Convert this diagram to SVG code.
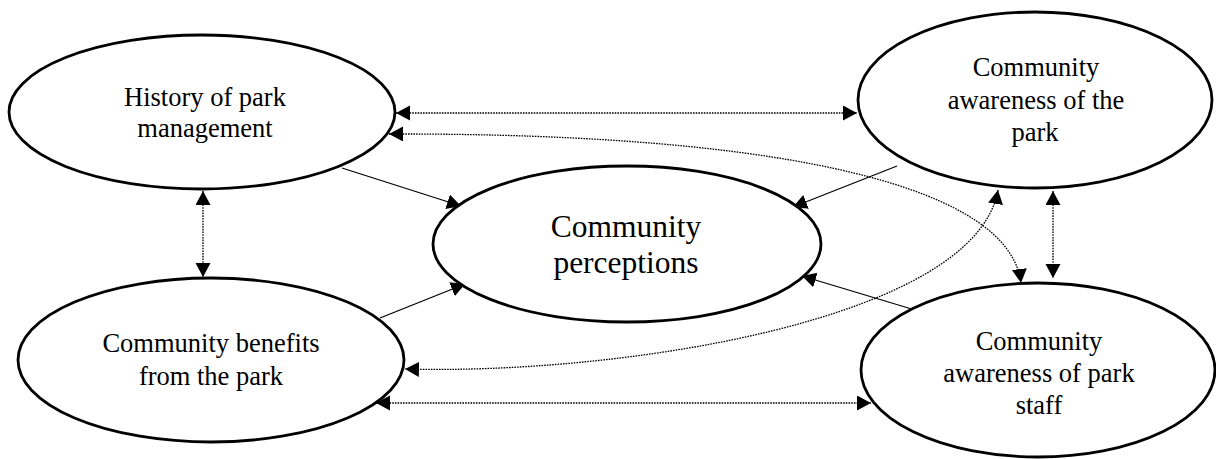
<svg xmlns="http://www.w3.org/2000/svg" width="1216" height="459" viewBox="0 0 1216 459">
<style>
.node{fill:#fff;stroke:#000;stroke-width:2.8}
.t{font-family:"Liberation Serif","Times New Roman",serif;font-size:26.5px;fill:#000;text-anchor:middle}
.tc{font-size:31.5px}
.solid{fill:none;stroke:#000;stroke-width:1.3}
.dot{fill:none;stroke:#000;stroke-width:1.3;stroke-dasharray:1.6 1.1}
</style>
<defs>
<marker id="ah" markerUnits="userSpaceOnUse" markerWidth="16" markerHeight="16" refX="14" refY="7.5" orient="auto-start-reverse" viewBox="0 0 16 16">
<path d="M0,0 L14,7.5 L0,15 z" fill="#000"/>
</marker>
</defs>
<rect width="1216" height="459" fill="#fff"/>
<g id="connectors">
<line class="dot" x1="396" y1="113" x2="857" y2="113" marker-start="url(#ah)" marker-end="url(#ah)"/>
<path class="dot" d="M389,134 C800,133 1010,190 1021,283" marker-start="url(#ah)" marker-end="url(#ah)"/>
<path class="dot" d="M998,190 C975,320 620,375 405,369" marker-start="url(#ah)" marker-end="url(#ah)"/>
<line class="dot" x1="376" y1="403" x2="871" y2="403" marker-start="url(#ah)" marker-end="url(#ah)"/>
<line class="dot" x1="203" y1="191" x2="203" y2="277" marker-start="url(#ah)" marker-end="url(#ah)"/>
<line class="dot" x1="1053" y1="191" x2="1053" y2="278" marker-start="url(#ah)" marker-end="url(#ah)"/>
<line class="solid" x1="342" y1="168" x2="461" y2="206" marker-end="url(#ah)"/>
<line class="solid" x1="897" y1="166" x2="793" y2="207" marker-end="url(#ah)"/>
<line class="solid" x1="380" y1="318" x2="465" y2="284" marker-end="url(#ah)"/>
<line class="solid" x1="915" y1="310" x2="802" y2="276" marker-end="url(#ah)"/>
</g>
<g id="history">
<ellipse class="node" cx="202" cy="112" rx="193" ry="77"/>
<text class="t" x="205" y="106">History of park</text>
<text class="t" x="205" y="137">management</text>
</g>
<g id="awareness-park">
<ellipse class="node" cx="1035" cy="100" rx="177" ry="88"/>
<text class="t" x="1036" y="76">Community</text>
<text class="t" x="1036" y="109">awareness of the</text>
<text class="t" x="1035" y="141">park</text>
</g>
<g id="perceptions">
<ellipse class="node" cx="627" cy="244" rx="194" ry="78"/>
<text class="t tc" x="626" y="237">Community</text>
<text class="t tc" x="626" y="273">perceptions</text>
</g>
<g id="benefits">
<ellipse class="node" cx="211" cy="360" rx="193" ry="82"/>
<text class="t" x="211" y="352">Community benefits</text>
<text class="t" x="211" y="385">from the park</text>
</g>
<g id="awareness-staff">
<ellipse class="node" cx="1038" cy="370" rx="177" ry="87"/>
<text class="t" x="1039" y="350">Community</text>
<text class="t" x="1039" y="382">awareness of park</text>
<text class="t" x="1039" y="414">staff</text>
</g>
</svg>
